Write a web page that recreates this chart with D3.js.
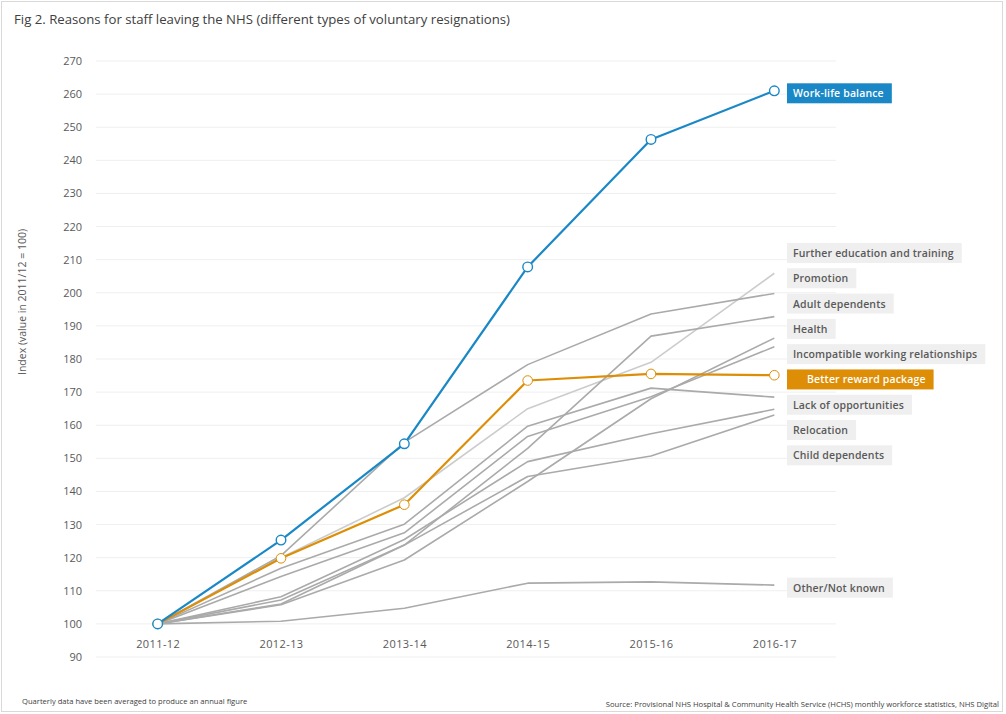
<!DOCTYPE html>
<html>
<head>
<meta charset="utf-8">
<script src="https://d3js.org/d3.v7.min.js"></script>
<style>
  body { margin: 0; background: #fff; }
  svg text { font-family: "Open Sans", "Noto Sans", sans-serif; }
</style>
</head>
<body>
<svg id="chart" width="1006" height="714"></svg>
<script>
// years on the x axis
var years = ["2011-12", "2012-13", "2013-14", "2014-15", "2015-16", "2016-17"];
var yTicks = [90, 100, 110, 120, 130, 140, 150, 160, 170, 180, 190, 200, 210, 220, 230, 240, 250, 260, 270];

// index values (2011/12 = 100)
var workLife          = [100, 125.3, 154.4, 207.8, 246.3, 261.0];
var betterReward      = [100, 119.8, 136.0, 173.5, 175.5, 175.1];
var furtherEducation  = [100, 120.0, 138.1, 165.0, 179.0, 205.9];
var promotion         = [100, 120.6, 154.8, 178.3, 193.6, 199.8];
var adultDependents   = [100, 107.2, 123.8, 153.0, 186.9, 192.8];
var health            = [100, 105.8, 119.3, 143.0, 168.0, 186.3];
var incompatible      = [100, 114.3, 127.5, 156.6, 168.6, 183.7];
var lackOpportunities = [100, 116.8, 130.1, 159.7, 171.2, 168.5];
var relocation        = [100, 108.2, 125.5, 149.0, 157.4, 164.8];
var childDependents   = [100, 106.0, 123.8, 144.5, 150.7, 163.1];
var otherNotKnown     = [100, 100.8, 104.7, 112.3, 112.7, 111.7];

var series = [
  {name: "Further education and training", values: furtherEducation, kind: "light"},
  {name: "Promotion", values: promotion, kind: "gray"},
  {name: "Adult dependents", values: adultDependents, kind: "gray"},
  {name: "Health", values: health, kind: "gray"},
  {name: "Incompatible working relationships", values: incompatible, kind: "gray"},
  {name: "Lack of opportunities", values: lackOpportunities, kind: "gray"},
  {name: "Relocation", values: relocation, kind: "gray"},
  {name: "Child dependents", values: childDependents, kind: "gray"},
  {name: "Other/Not known", values: otherNotKnown, kind: "gray"},
  {name: "Better reward package", values: betterReward, kind: "orange"},
  {name: "Work-life balance", values: workLife, kind: "blue"}
];

var colors = {light: "#cccccc", gray: "#aaaaaa", orange: "#dd8e06", blue: "#1a88c6"};
var textGray = "#595959";

var svg = d3.select("#chart");

// outer border
svg.append("rect")
  .attr("x", 1.5).attr("y", 1.5)
  .attr("width", 1001).attr("height", 710)
  .attr("fill", "#fff").attr("stroke", "#d9d9d9");

var xScale = d3.scalePoint().domain(years).range([96, 836]).padding(0.5);
var yScale = d3.scaleLinear().domain([90, 270]).range([657, 61]);

// gridlines
svg.append("g")
  .selectAll("line")
  .data(yTicks)
  .enter()
  .append("line")
  .attr("x1", 96).attr("x2", 836)
  .attr("y1", d => yScale(d)).attr("y2", d => yScale(d))
  .attr("stroke", "#efefef").attr("stroke-width", 1);

// y axis
var axisY = d3.axisLeft(yScale).tickValues(yTicks).tickSize(0).tickPadding(0);
svg.append("g")
  .attr("transform", "translate(82,0)")
  .call(axisY)
  .call(g => g.select(".domain").remove())
  .selectAll("text")
  .attr("fill", textGray)
  .style("font-size", "11px")
  .style("font-family", "'Open Sans', sans-serif");

// x axis
var axisX = d3.axisBottom(xScale).tickSize(0).tickPadding(0);
svg.append("g")
  .attr("transform", "translate(0,640)")
  .call(axisX)
  .call(g => g.select(".domain").remove())
  .selectAll("text")
  .attr("fill", textGray)
  .style("font-size", "11px")
  .style("letter-spacing", "0.4px")
  .style("font-family", "'Open Sans', sans-serif");

var line = d3.line()
  .x((d, i) => xScale(years[i]))
  .y(d => yScale(d));

var lines = svg.append("g");
lines.selectAll("path")
  .data(series)
  .enter()
  .append("path")
  .attr("d", d => line(d.values))
  .attr("fill", "none")
  .attr("stroke", d => colors[d.kind])
  .attr("stroke-width", d => (d.kind == "orange" || d.kind == "blue") ? 2.2 : 1.6)
  .attr("stroke-linejoin", "round");

// markers for the highlighted series
series.filter(s => s.kind == "orange" || s.kind == "blue").forEach(function(s) {
  svg.append("g")
    .selectAll("circle")
    .data(s.values)
    .enter()
    .append("circle")
    .attr("cx", (d, i) => xScale(years[i]))
    .attr("cy", d => yScale(d))
    .attr("r", 4.8)
    .attr("fill", "#fff")
    .attr("stroke", colors[s.kind])
    .attr("stroke-width", s.kind == "blue" ? 1.4 : 1);
});

// end labels, spread apart so they don't overlap
var labels = series.map(s => ({name: s.name, kind: s.kind, y: yScale(s.values[s.values.length - 1]) + 2.5}));
labels.sort((a, b) => a.y - b.y);
var gap = 25.3;
for (var k = 0; k < 300; k++) {
  for (var i = 0; i < labels.length - 1; i++) {
    var over = gap - (labels[i + 1].y - labels[i].y);
    if (over > 0) {
      labels[i].y -= over / 2;
      labels[i + 1].y += over / 2;
    }
  }
}

var labelG = svg.append("g");
labels.forEach(function(l) {
  var g = labelG.append("g").attr("transform", "translate(787," + l.y + ")");
  var box = g.append("rect").attr("y", -10).attr("height", 20)
    .attr("fill", l.kind == "blue" ? colors.blue : (l.kind == "orange" ? colors.orange : "#efefef"));
  var padL = l.kind == "orange" ? 20 : 6;
  var t = g.append("text")
    .attr("x", padL).attr("y", 4)
    .attr("fill", (l.kind == "blue" || l.kind == "orange") ? "#fff" : textGray)
    .style("font-size", "10.5px")
    .style("font-weight", "600")
    .style("letter-spacing", "0.15px")
    .text(l.name);
  var w = t.node().getComputedTextLength();
  box.attr("width", w + padL + 8);
});

// title and notes
svg.append("text")
  .attr("x", 14).attr("y", 24)
  .attr("fill", "#404040")
  .style("font-size", "13.2px")
  .text("Fig 2. Reasons for staff leaving the NHS (different types of voluntary resignations)");

svg.append("text")
  .attr("transform", "translate(26,302) rotate(-90)")
  .attr("text-anchor", "middle")
  .attr("fill", textGray)
  .style("font-size", "10.5px")
  .text("Index (value in 2011/12 = 100)");

svg.append("text")
  .attr("x", 22).attr("y", 704)
  .attr("fill", "#404040")
  .style("font-size", "7.6px")
  .text("Quarterly data have been averaged to produce an annual figure");

svg.append("text")
  .attr("x", 999).attr("y", 707)
  .attr("text-anchor", "end")
  .attr("fill", "#404040")
  .style("font-size", "7.65px")
  .text("Source: Provisional NHS Hospital & Community Health Service (HCHS) monthly workforce statistics, NHS Digital");
</script>
</body>
</html>
